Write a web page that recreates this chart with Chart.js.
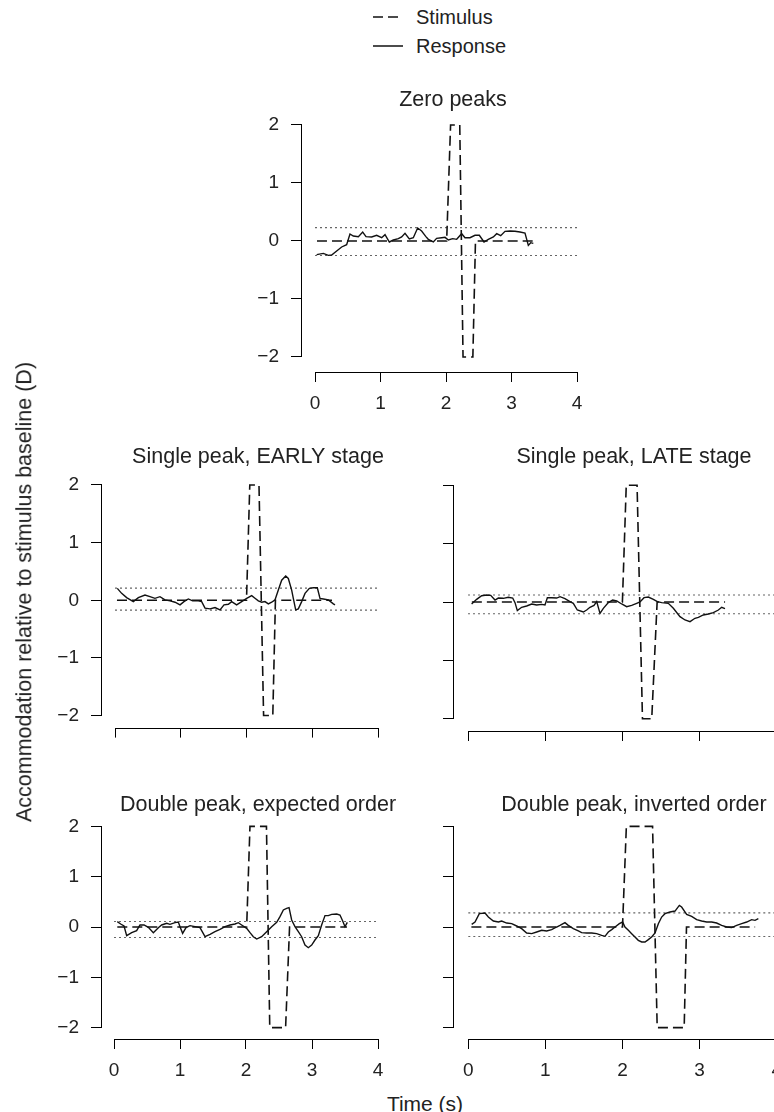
<!DOCTYPE html>
<html>
<head>
<meta charset="utf-8">
<script src="https://cdn.jsdelivr.net/npm/chart.js@4.4.1/dist/chart.umd.min.js"></script>
<style>
html,body{margin:0;padding:0;background:#fff;overflow:hidden;}
#page{position:relative;width:774px;height:1112px;overflow:hidden;background:#fff;
  font-family:"Liberation Sans",Arial,Helvetica,sans-serif;color:#222;}
#page canvas{position:absolute;}
.txt{position:absolute;white-space:nowrap;line-height:1;}
</style>
</head>
<body>
<div id="page"></div>
<script>
// ---------------- DATA ----------------
const timeTicks = [0, 1, 2, 3, 4];
const accTicks = [-2, -1, 0, 1, 2];
const legendLabels = ['Stimulus', 'Response'];
const panelTitles = ['Zero peaks', 'Single peak, EARLY stage', 'Single peak, LATE stage',
                     'Double peak, expected order', 'Double peak, inverted order'];
const xAxisTitle = 'Time (s)';
const yAxisTitle = 'Accommodation relative to stimulus baseline (D)';
const bandSpan = [0, 4];

// stimulus: [time (s), accommodation (D)]
const zeroStim     = [[0.03,0],[2.01,0],[2.07,2],[2.21,2],[2.26,-2],[2.41,-2],[2.45,0],[3.33,0]];
const earlyStim    = [[0.03,0],[2.00,0],[2.05,2],[2.19,2],[2.26,-2],[2.40,-2],[2.44,0],[3.30,0]];
const lateStim     = [[0.05,0],[2.00,0],[2.05,2],[2.19,2],[2.26,-2],[2.38,-2],[2.45,0],[3.33,0]];
const expectedStim = [[0.05,0],[2.01,0],[2.06,2],[2.31,2],[2.36,-2],[2.60,-2],[2.66,0],[3.53,0]];
const invertedStim = [[0.04,0],[2.00,0],[2.05,2],[2.39,2],[2.45,-2],[2.80,-2],[2.83,0],[3.72,0]];

// response: [time (s), accommodation (D)]
const zeroResp = [[0.025,-0.236],[0.127,-0.213],[0.204,-0.247],[0.254,-0.241],[0.331,-0.172],[0.407,-0.103],
 [0.483,-0.063],[0.534,0.121],[0.585,0.086],[0.662,0.075],[0.728,0.155],[0.779,0.075],[0.865,0.069],
 [0.941,0.098],[1.018,0.057],[1.069,0.109],[1.135,-0.017],[1.196,0.017],[1.272,0.040],[1.323,0.069],
 [1.374,0.132],[1.440,0.034],[1.501,0.057],[1.567,0.224],[1.628,0.172],[1.690,0.080],[1.730,0.029],
 [1.807,-0.017],[1.857,0.046],[1.934,0.057],[1.985,0.063],[2.036,0.017],[2.102,0.040],[2.163,0.029],
 [2.239,0.126],[2.290,0.057],[2.366,0.057],[2.443,0.098],[2.509,0.098],[2.580,-0.017],[2.646,0.029],
 [2.723,0.069],[2.774,0.126],[2.835,0.092],[2.901,0.167],[2.977,0.172],[3.053,0.167],[3.130,0.155],
 [3.206,0.138],[3.257,-0.075],[3.293,-0.029],[3.333,-0.040]];
const earlyResp = [[0.035,0.206],[0.101,0.120],[0.177,0.046],[0.279,-0.023],[0.355,0.046],[0.456,0.092],
 [0.532,0.063],[0.608,0.034],[0.684,0.063],[0.760,0.006],[0.837,-0.011],[0.913,-0.034],[0.989,-0.080],
 [1.049,-0.023],[1.115,0.023],[1.181,-0.011],[1.267,-0.011],[1.318,-0.023],[1.369,-0.137],[1.445,-0.149],
 [1.521,-0.126],[1.597,-0.166],[1.658,-0.080],[1.724,-0.069],[1.774,-0.023],[1.850,-0.080],[1.927,-0.023],
 [2.003,0.034],[2.079,0.080],[2.129,0.034],[2.180,-0.011],[2.231,-0.034],[2.281,-0.023],[2.332,-0.063],
 [2.383,-0.034],[2.433,0.006],[2.484,0.177],[2.535,0.349],[2.596,0.423],[2.636,0.378],[2.687,0.177],
 [2.712,0.034],[2.748,-0.166],[2.788,-0.149],[2.839,-0.023],[2.890,0.120],[2.956,0.206],[3.016,0.217],
 [3.077,0.217],[3.118,0.034],[3.169,0.023],[3.245,0.006],[3.321,-0.063],[3.346,-0.080]];
const lateResp = [[0.047,-0.034],[0.112,0.046],[0.177,0.108],[0.242,0.120],[0.294,0.114],[0.350,0.034],
 [0.393,0.068],[0.458,0.063],[0.522,0.080],[0.579,0.068],[0.609,-0.011],[0.639,-0.148],[0.695,-0.091],
 [0.760,-0.068],[0.825,-0.034],[0.889,-0.051],[0.954,-0.040],[0.997,-0.051],[1.028,0.074],[1.084,0.074],
 [1.149,0.068],[1.192,0.091],[1.256,0.057],[1.321,0.006],[1.364,-0.023],[1.416,-0.137],[1.494,-0.171],
 [1.537,-0.137],[1.580,-0.091],[1.632,-0.057],[1.667,0.006],[1.710,-0.194],[1.753,-0.108],[1.818,-0.011],
 [1.874,0.034],[1.926,0.017],[1.991,-0.034],[2.055,-0.080],[2.120,-0.057],[2.185,-0.023],[2.228,0.000],
 [2.280,0.074],[2.336,0.085],[2.401,0.046],[2.453,0.006],[2.509,-0.011],[2.595,-0.023],[2.660,-0.108],
 [2.746,-0.251],[2.811,-0.308],[2.876,-0.336],[2.940,-0.279],[2.984,-0.262],[3.048,-0.222],[3.113,-0.205],
 [3.178,-0.182],[3.243,-0.137],[3.286,-0.091],[3.329,-0.114]];
const expectedResp = [[0.050,0.106],[0.101,0.060],[0.152,0.020],[0.192,-0.173],[0.268,-0.113],[0.343,-0.073],
 [0.394,0.040],[0.455,0.040],[0.520,-0.007],[0.596,-0.113],[0.672,-0.013],[0.722,0.040],[0.798,0.073],
 [0.848,0.053],[0.924,0.086],[0.975,0.100],[1.000,0.007],[1.040,-0.126],[1.091,-0.013],[1.152,0.027],
 [1.227,0.007],[1.303,-0.013],[1.379,-0.193],[1.455,-0.146],[1.530,-0.093],[1.606,-0.046],[1.682,0.007],
 [1.758,0.040],[1.833,0.060],[1.884,0.086],[1.934,0.040],[2.010,-0.027],[2.061,-0.113],[2.111,-0.193],
 [2.162,-0.239],[2.237,-0.193],[2.313,-0.093],[2.389,0.007],[2.465,0.093],[2.515,0.206],[2.566,0.339],
 [2.616,0.372],[2.652,0.385],[2.692,0.139],[2.742,0.007],[2.793,-0.093],[2.843,-0.193],[2.894,-0.359],
 [2.944,-0.412],[2.995,-0.359],[3.045,-0.259],[3.096,-0.173],[3.146,0.040],[3.197,0.226],[3.247,0.226],
 [3.298,0.252],[3.374,0.259],[3.424,0.239],[3.465,0.120],[3.500,0.007],[3.535,0.093]];
const invertedResp = [[0.044,0.053],[0.087,0.099],[0.143,0.265],[0.217,0.278],[0.260,0.198],[0.325,0.119],
 [0.390,0.099],[0.433,0.119],[0.498,0.079],[0.563,0.066],[0.627,0.020],[0.692,-0.033],[0.757,-0.119],
 [0.822,-0.132],[0.887,-0.099],[0.952,-0.066],[1.016,-0.079],[1.081,-0.053],[1.146,0.000],[1.189,0.033],
 [1.254,0.086],[1.297,0.033],[1.362,-0.033],[1.427,-0.079],[1.470,-0.112],[1.535,-0.119],[1.600,-0.119],
 [1.665,-0.132],[1.730,-0.165],[1.773,-0.185],[1.816,-0.099],[1.860,-0.053],[1.903,0.000],[1.959,0.066],
 [2.002,0.099],[2.032,0.000],[2.076,-0.066],[2.119,-0.132],[2.162,-0.198],[2.205,-0.265],[2.249,-0.298],
 [2.292,-0.298],[2.335,-0.251],[2.378,-0.198],[2.422,-0.119],[2.465,0.066],[2.508,0.198],[2.551,0.265],
 [2.616,0.298],[2.681,0.317],[2.737,0.430],[2.767,0.397],[2.832,0.251],[2.897,0.212],[2.962,0.146],
 [3.027,0.119],[3.092,0.099],[3.157,0.099],[3.221,0.079],[3.286,0.033],[3.351,0.000],[3.416,-0.013],
 [3.481,0.033],[3.546,0.066],[3.611,0.099],[3.675,0.146],[3.719,0.132],[3.762,0.165]];

// dotted threshold levels [upper, lower]
const zeroBand = [0.23, -0.25];
const earlyBand = [0.21, -0.17];
const lateBand = [0.12, -0.20];
const expectedBand = [0.11, -0.21];
const invertedBand = [0.28, -0.19];

// ---------------- LAYOUT / STYLE ----------------
const FONT = '"Liberation Sans", Arial, Helvetica, sans-serif';
Chart.defaults.font.family = FONT;
Chart.defaults.color = '#222';
const TITLE_SIZE = 21.5, TITLE_LH = TITLE_SIZE * 1.2;
const TICK_SIZE = 19;

const panels = [
  {title: panelTitles[0], stim: zeroStim, resp: zeroResp, band: zeroBand, xLab: true, yLab: true,
   geo: {yAxisX: 301, x0: 315, xs: 65.5, y0: 241, ys: 58, xAxisY: 372, titleX: 453, titleY: 100, wy: 80, hx: 50}},
  {title: panelTitles[1], stim: earlyStim, resp: earlyResp, band: earlyBand, xLab: false, yLab: true,
   geo: {yAxisX: 101, x0: 115, xs: 65.75, y0: 602, ys: 58.4, xAxisY: 731, titleX: 258, titleY: 457, wy: 80, hx: 20}},
  {title: panelTitles[2], stim: lateStim, resp: lateResp, band: lateBand, xLab: false, yLab: false,
   geo: {yAxisX: 453, x0: 468, xs: 77.2, y0: 602, ys: 58.4, xAxisY: 731, titleX: 634, titleY: 457, wy: 20, hx: 20}},
  {title: panelTitles[3], stim: expectedStim, resp: expectedResp, band: expectedBand, xLab: true, yLab: true,
   geo: {yAxisX: 101, x0: 114, xs: 66, y0: 927, ys: 50.3, xAxisY: 1039, titleX: 258, titleY: 805, wy: 80, hx: 50}},
  {title: panelTitles[4], stim: invertedStim, resp: invertedResp, band: invertedBand, xLab: true, yLab: false,
   geo: {yAxisX: 453, x0: 468.3, xs: 77.1, y0: 927, ys: 50.3, xAxisY: 1039, titleX: 634, titleY: 805, wy: 20, hx: 50}}
];

const page = document.getElementById('page');

function fmt(v) { return v < 0 ? '\u2212' + Math.abs(v) : String(v); }
const toXY = arr => arr.map(([x, y]) => ({x, y}));

// R-style axis lines spanning only first..last tick
const rAxisLines = {
  id: 'rAxisLines',
  afterDraw(chart) {
    const {ctx, chartArea: a, scales} = chart;
    const xs = scales.x, ys = scales.y;
    const al = v => Math.round(v - 0.5) + 0.5;
    ctx.save();
    ctx.strokeStyle = '#000';
    ctx.lineWidth = 1;
    ctx.setLineDash([]);
    ctx.beginPath();
    const lx = Math.round(a.left) + 0.5;
    const yTop = al(ys.getPixelForValue(accTicks[accTicks.length - 1])) - 0.5;
    const yBot = al(ys.getPixelForValue(accTicks[0])) + 0.5;
    ctx.moveTo(lx, yTop); ctx.lineTo(lx, yBot);
    const by = Math.round(a.bottom) + 0.5;
    const xL = al(xs.getPixelForValue(timeTicks[0])) - 0.5;
    const xR = al(xs.getPixelForValue(timeTicks[timeTicks.length - 1])) + 0.5;
    ctx.moveTo(xL, by); ctx.lineTo(xR, by);
    ctx.stroke();
    ctx.restore();
  }
};

function makePanel(p) {
  const g = p.geo;
  const L = g.yAxisX - g.wy;
  const chartRight = 2 * g.titleX - g.yAxisX;
  const W = Math.round(chartRight - L);
  const top = Math.round(g.titleY - TITLE_LH / 2);
  const H = Math.round(g.xAxisY + g.hx - top);
  const chartTop = top + TITLE_LH;
  const xmin = (g.yAxisX - g.x0) / g.xs;
  const xmax = (L + W - g.x0) / g.xs;
  const ymin = (g.y0 - g.xAxisY) / g.ys;
  const ymax = (g.y0 - chartTop) / g.ys;

  const c = document.createElement('canvas');
  c.width = W; c.height = H;
  c.style.left = L + 'px'; c.style.top = top + 'px';
  c.style.width = W + 'px'; c.style.height = H + 'px';
  page.appendChild(c);

  const bandLine = lvl => bandSpan.map(t => ({x: t, y: lvl}));
  const lineBase = {pointRadius: 0, pointHoverRadius: 0, tension: 0, fill: false};

  new Chart(c, {
    type: 'line',
    data: {
      datasets: [
        Object.assign({label: legendLabels[0], data: toXY(p.stim), borderColor: '#111', borderWidth: 1.6, borderDash: [10, 5]}, lineBase),
        Object.assign({label: legendLabels[1], data: toXY(p.resp), borderColor: '#111', borderWidth: 1.4}, lineBase),
        Object.assign({label: 'upper', data: bandLine(p.band[0]), borderColor: '#666', borderWidth: 1.1, borderDash: [2, 3]}, lineBase),
        Object.assign({label: 'lower', data: bandLine(p.band[1]), borderColor: '#666', borderWidth: 1.1, borderDash: [2, 3]}, lineBase)
      ]
    },
    options: {
      responsive: false,
      animation: false,
      events: [],
      layout: {autoPadding: false, padding: 0},
      plugins: {
        legend: {display: false},
        tooltip: {enabled: false},
        title: {display: true, text: p.title, fullSize: false, padding: 0, color: '#222',
                font: {size: TITLE_SIZE, weight: 'normal', family: FONT}}
      },
      scales: {
        x: {
          type: 'linear', position: 'bottom', min: xmin, max: xmax, bounds: 'data',
          afterBuildTicks: s => { s.ticks = timeTicks.map(v => ({value: v})); },
          afterFit: s => { s.height = g.hx; },
          grid: {display: true, drawOnChartArea: false, drawTicks: true, tickLength: 10, color: '#000', lineWidth: 1},
          border: {display: false},
          ticks: {display: p.xLab, autoSkip: false, maxRotation: 0, padding: 10, color: '#222',
                  font: {size: TICK_SIZE}, callback: v => fmt(v)}
        },
        y: {
          type: 'linear', position: 'left', min: ymin, max: ymax, bounds: 'data',
          afterBuildTicks: s => { s.ticks = accTicks.map(v => ({value: v})); },
          afterFit: s => { s.width = g.wy; },
          grid: {display: true, drawOnChartArea: false, drawTicks: true, tickLength: 10, color: '#000', lineWidth: 1},
          border: {display: false},
          ticks: {display: p.yLab, autoSkip: false, padding: 12, color: '#222',
                  font: {size: TICK_SIZE}, callback: v => fmt(v)}
        }
      }
    },
    plugins: [rAxisLines]
  });
}

panels.forEach(makePanel);

// ---------------- HTML legend and axis titles ----------------
function addText(txt, cx, cy, size, rotate, anchorLeft) {
  const d = document.createElement('div');
  d.className = 'txt';
  d.textContent = txt;
  d.style.fontSize = size + 'px';
  d.style.left = cx + 'px';
  d.style.top = cy + 'px';
  d.style.transform = anchorLeft ? 'translate(0,-50%)' :
      ('translate(-50%,-50%)' + (rotate ? ' rotate(' + rotate + 'deg)' : ''));
  page.appendChild(d);
}

const legendRows = [{y: 17, dash: '10 5', len: 26}, {y: 45.5, dash: '', len: 30}];
legendLabels.forEach((lab, i) => {
  const r = legendRows[i];
  const svgNS = 'http://www.w3.org/2000/svg';
  const svg = document.createElementNS(svgNS, 'svg');
  svg.setAttribute('width', 32); svg.setAttribute('height', 6);
  svg.style.position = 'absolute';
  svg.style.left = '373px';
  svg.style.top = (r.y - 3) + 'px';
  const ln = document.createElementNS(svgNS, 'line');
  ln.setAttribute('x1', 0); ln.setAttribute('x2', r.len);
  ln.setAttribute('y1', 3); ln.setAttribute('y2', 3);
  ln.setAttribute('stroke', '#111'); ln.setAttribute('stroke-width', 1.5);
  if (r.dash) ln.setAttribute('stroke-dasharray', r.dash);
  svg.appendChild(ln);
  page.appendChild(svg);
  addText(lab, 416, r.y, 20, 0, true);
});

addText(xAxisTitle, 425, 1103, 21, 0, false);
addText(yAxisTitle, 25, 592, 21.5, -90, false);
</script>
</body>
</html>
